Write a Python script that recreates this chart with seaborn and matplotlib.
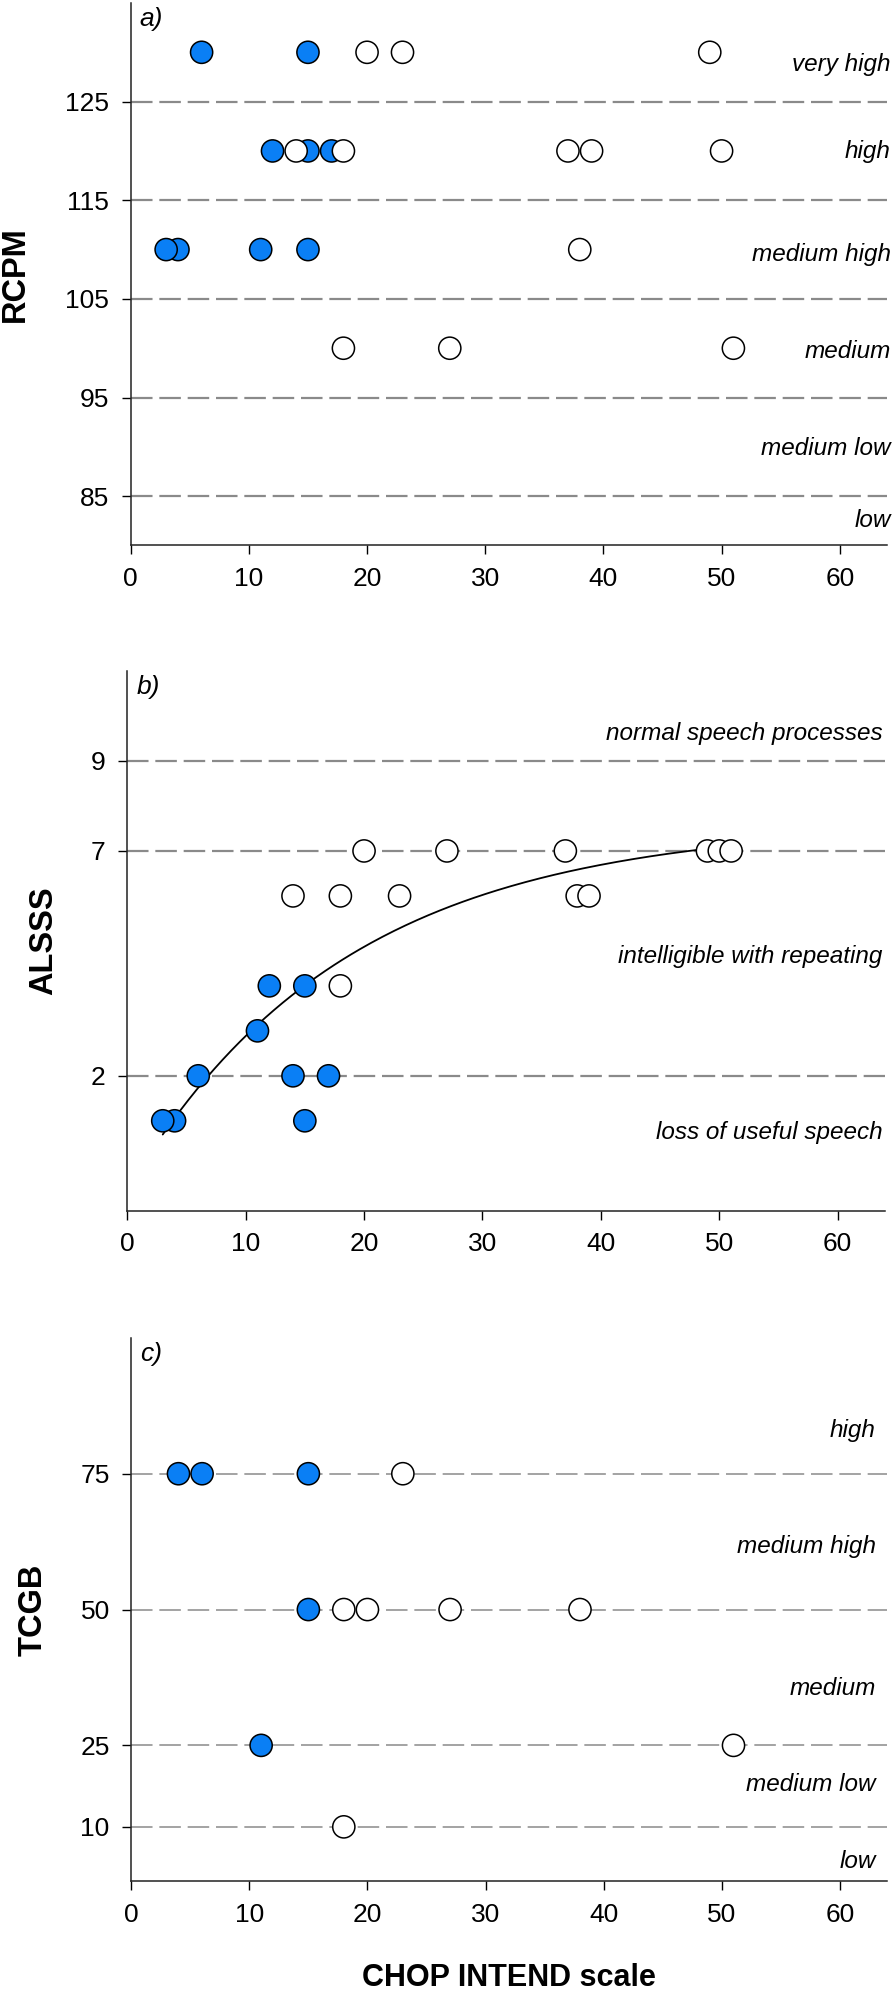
import numpy as np
import pandas as pd
import seaborn as sns
import matplotlib
matplotlib.use("Agg")
import matplotlib.pyplot as plt
import matplotlib.transforms as mtransforms

# x axis shared by the three panels
chop_ticks = [0, 10, 20, 30, 40, 50, 60]

# a) RCPM
rcpm_blue_x = [6, 15, 12, 15, 17, 4, 3, 11, 15]
rcpm_blue_y = [130, 130, 120, 120, 120, 110, 110, 110, 110]
rcpm_white_x = [20, 23, 49, 14, 18, 37, 39, 50, 38, 18, 27, 51]
rcpm_white_y = [130, 130, 130, 120, 120, 120, 120, 120, 110, 100, 100, 100]
rcpm_ticks = [85, 95, 105, 115, 125]
rcpm_bands = ["very high", "high", "medium high", "medium", "medium low", "low"]
rcpm_band_y = [128.1, 119.3, 108.8, 99.0, 89.2, 81.9]

# b) ALSSS
alsss_blue_x = [4, 3, 15, 6, 14, 17, 11, 12, 15]
alsss_blue_y = [1, 1, 1, 2, 2, 2, 3, 4, 4]
alsss_white_x = [18, 14, 18, 23, 38, 39, 20, 27, 37, 49, 50, 51]
alsss_white_y = [4, 6, 6, 6, 6, 6, 7, 7, 7, 7, 7, 7]
alsss_ticks = [2, 7, 9]
alsss_bands = ["normal speech processes", "intelligible with repeating", "loss of useful speech"]
alsss_band_y = [9.46, 4.5, 0.6]

# c) TCGB
tcgb_blue_x = [4, 6, 15, 15, 11]
tcgb_blue_y = [75, 75, 75, 50, 25]
tcgb_white_x = [23, 18, 20, 27, 38, 51, 18]
tcgb_white_y = [75, 50, 50, 50, 50, 25, 10]
tcgb_ticks = [10, 25, 50, 75]
tcgb_bands = ["high", "medium high", "medium", "medium low", "low"]
tcgb_band_y = [81.7, 60.5, 34.3, 16.6, 2.5]

BLUE = "#0a7ff5"
GRID = "#8a8a8a"

sns.set_theme(style="ticks")
plt.rcParams["font.family"] = ["Liberation Sans", "DejaVu Sans"]
plt.rcParams["lines.scale_dashes"] = False


def make_frame(bx, by, wx, wy):
    blue = pd.DataFrame({"x": bx, "y": by, "group": "blue"})
    white = pd.DataFrame({"x": wx, "y": wy, "group": "white"})
    return pd.concat([blue, white], ignore_index=True)


panels = [
    dict(rect=[0.1462, 0.7263, 0.8460, 0.2722], ylim=(80, 135), ticks=rcpm_ticks,
         data=make_frame(rcpm_blue_x, rcpm_blue_y, rcpm_white_x, rcpm_white_y),
         label="RCPM", label_x=-0.152, tag="a)", bands=rcpm_bands, band_y=rcpm_band_y,
         band_x=1.005, grid_lw=1.6),
    dict(rect=[0.1423, 0.3925, 0.8477, 0.2708], ylim=(-1, 11), ticks=alsss_ticks,
         data=make_frame(alsss_blue_x, alsss_blue_y, alsss_white_x, alsss_white_y),
         label="ALSSS", label_x=-0.110, tag="b)", bands=alsss_bands, band_y=alsss_band_y,
         band_x=0.997, grid_lw=1.6),
    dict(rect=[0.1468, 0.0561, 0.8454, 0.2726], ylim=(0, 100), ticks=tcgb_ticks,
         data=make_frame(tcgb_blue_x, tcgb_blue_y, tcgb_white_x, tcgb_white_y),
         label="TCGB", label_x=-0.130, tag="c)", bands=tcgb_bands, band_y=tcgb_band_y,
         band_x=0.985, grid_lw=1.1),
]

fig = plt.figure(figsize=(8.94, 19.93), dpi=100)

for i, p in enumerate(panels):
    ax = fig.add_axes(p["rect"])
    for t in p["ticks"]:
        ax.axhline(t, color=GRID, lw=p["grid_lw"], ls=(0, (15.5, 4.9)), zorder=1)

    if p["label"] == "ALSSS":
        # exponential rise to maximum fitted to the plotted points
        xs = p["data"]["x"].to_numpy(float)
        ys = p["data"]["y"].to_numpy(float)
        best = None
        for k in np.linspace(0.005, 0.3, 3000):
            A = np.column_stack([np.ones_like(xs), 1 - np.exp(-k * xs)])
            coef, res, _, _ = np.linalg.lstsq(A, ys, rcond=None)
            sse = np.sum((A @ coef - ys) ** 2)
            if best is None or sse < best[0]:
                best = (sse, k, coef)
        _, k, coef = best
        fit_x = np.linspace(xs.min(), xs.max(), 200)
        fit = pd.DataFrame({"x": fit_x, "y": coef[0] + coef[1] * (1 - np.exp(-k * fit_x))})
        sns.lineplot(data=fit, x="x", y="y", color="black", lw=1.3, ax=ax, zorder=2)

    sns.scatterplot(data=p["data"], x="x", y="y", hue="group",
                    palette={"blue": BLUE, "white": "white"},
                    s=255, edgecolor="black", linewidth=1.1, legend=False, ax=ax, zorder=3)

    ax.set_xlim(0, 64)
    ax.set_ylim(*p["ylim"])
    ax.set_xticks(chop_ticks)
    ax.set_yticks(p["ticks"])
    ax.tick_params(axis="both", labelsize=19, length=6.5, width=1.0, color="black",
                   labelcolor="black", direction="out", pad=9)
    sns.despine(ax=ax)
    for s in ["left", "bottom"]:
        ax.spines[s].set_color("#222222")
        ax.spines[s].set_linewidth(1.1)

    ax.set_ylabel(p["label"], fontsize=23.5, fontweight="bold", color="black")
    ax.yaxis.label.set_verticalalignment("center")
    ax.yaxis.set_label_coords(p["label_x"], 0.5)
    if i == 2:
        ax.set_xlabel("CHOP INTEND scale", fontsize=22, fontweight="bold", color="black")
        ax.xaxis.label.set_verticalalignment("center")
        ax.xaxis.set_label_coords(0.5, -0.1773)
    else:
        ax.set_xlabel("")

    ax.text(0.012, 0.992, p["tag"], transform=ax.transAxes, ha="left", va="top",
            fontsize=19, style="italic", color="black")

    trans = mtransforms.blended_transform_factory(ax.transAxes, ax.transData)
    for name, yy in zip(p["bands"], p["band_y"]):
        ax.text(p["band_x"], yy, name, transform=trans, ha="right", va="baseline",
                fontsize=17.5, style="italic", color="black")

fig.savefig("out.png", dpi=100)
